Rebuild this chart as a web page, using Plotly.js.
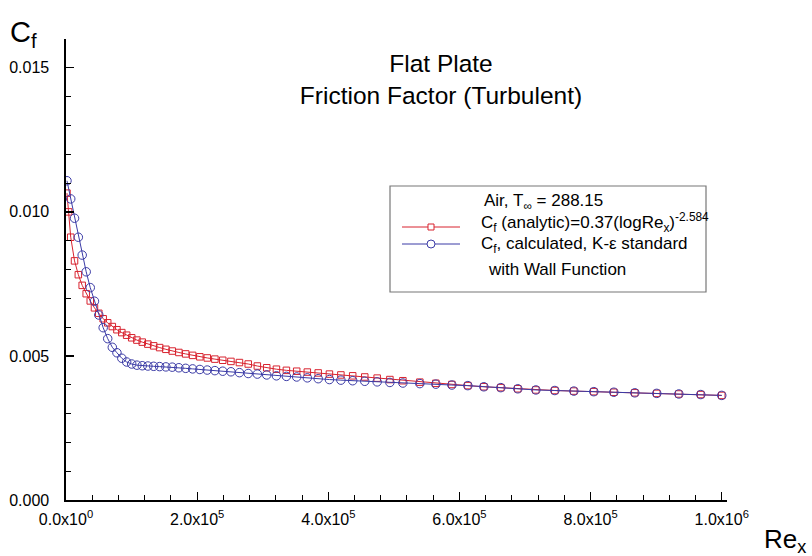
<!DOCTYPE html>
<html>
<head>
<meta charset="utf-8">
<script src="https://cdn.plot.ly/plotly-3.0.1.min.js"></script>
<style>html,body{margin:0;padding:0;background:#fff;}#chart{width:812px;height:556px;}</style>
</head>
<body>
<div id="chart"></div>
<script>
// ---- data ----
const reAnalytic = [1500, 4000, 7200, 13000, 18800, 24700, 30800, 37000, 43400, 50000, 56700, 63600, 70600, 77700, 85100, 92500, 100200, 108100, 116300, 124800, 133700, 142800, 152300, 162000, 172100, 182500, 193100, 204100, 215400, 227000, 239000, 251500, 264500, 277900, 291800, 306100, 320900, 336100, 351800, 368000, 384600, 401700, 419200, 437200, 455600, 474500, 493900, 513700, 539600, 564000, 588400, 612800, 637200, 663100, 689000, 716500, 745400, 774400, 804900, 835400, 867400, 900900, 934500, 968000, 1000000];
const cfAnalytic = [0.01065, 0.01000, 0.00912, 0.00830, 0.00782, 0.00745, 0.00716, 0.00691, 0.00667, 0.00648, 0.00629, 0.00615, 0.00602, 0.00591, 0.00581, 0.00572, 0.00563, 0.00555, 0.00548, 0.00541, 0.00535, 0.00529, 0.00523, 0.00517, 0.00512, 0.00507, 0.00502, 0.00497, 0.00493, 0.00489, 0.00485, 0.00481, 0.00477, 0.00472, 0.00465, 0.00459, 0.00454, 0.00450, 0.00447, 0.00444, 0.00441, 0.00437, 0.00434, 0.00431, 0.00427, 0.00423, 0.00418, 0.00414, 0.00409, 0.00405, 0.00401, 0.00397, 0.00393, 0.00390, 0.00386, 0.00382, 0.00380, 0.00378, 0.00376, 0.00374, 0.00372, 0.00370, 0.00368, 0.00366, 0.00363];
const reCalc = [1500, 7200, 13000, 18800, 24700, 30800, 37000, 43400, 50000, 56700, 63600, 70600, 77700, 85100, 92500, 100200, 108100, 116300, 124800, 133700, 142800, 152300, 162000, 172100, 182500, 193100, 204100, 215400, 227000, 239000, 251500, 264500, 277900, 291800, 306100, 320900, 336100, 351800, 368000, 384600, 401700, 419200, 437200, 455600, 474500, 493900, 513700, 539600, 564000, 588400, 612800, 637200, 663100, 689000, 716500, 745400, 774400, 804900, 835400, 867400, 900900, 934500, 968000, 1000000];
const cfCalc = [0.01108, 0.01045, 0.00978, 0.00912, 0.00850, 0.00792, 0.00737, 0.00690, 0.00642, 0.00598, 0.00560, 0.00530, 0.00511, 0.00492, 0.00479, 0.00472, 0.00468, 0.00466, 0.00465, 0.00464, 0.00463, 0.00462, 0.00461, 0.00459, 0.00457, 0.00455, 0.00453, 0.00451, 0.00449, 0.00447, 0.00445, 0.00442, 0.00439, 0.00437, 0.00434, 0.00431, 0.00429, 0.00427, 0.00424, 0.00421, 0.00418, 0.00416, 0.00414, 0.00412, 0.00410, 0.00408, 0.00406, 0.00404, 0.00402, 0.00399, 0.00397, 0.00393, 0.00390, 0.00386, 0.00382, 0.00380, 0.00378, 0.00376, 0.00374, 0.00372, 0.00370, 0.00368, 0.00366, 0.00363];
const xTickVals = [0, 200000, 400000, 600000, 800000, 1000000];
const xTickText = ['0.0x10<sup>0</sup>', '2.0x10<sup>5</sup>', '4.0x10<sup>5</sup>', '6.0x10<sup>5</sup>', '8.0x10<sup>5</sup>', '1.0x10<sup>6</sup>'];
const yTickVals = [0, 0.005, 0.010, 0.015];
const yTickText = ['0.000', '0.005', '0.010', '0.015'];
const legendLines = ['Air, T<sub>∞</sub> = 288.15', 'C<sub>f</sub> (analytic)=0.37(logRe<sub>x</sub>)<sup>-2.584</sup>', 'C<sub>f</sub>, calculated, K-ε standard', 'with Wall Function'];

// ---- layout geometry (pixels) ----
const W = 812, H = 556;
const M = {l: 66, r: 85, t: 39, b: 56};
const PW = W - M.l - M.r, PH = H - M.t - M.b;
const px = x => (x - M.l) / PW;
const py = y => (H - M.b - y) / PH;

const red = '#d8232f', blue = '#3b3ba6';
const font = 'Liberation Sans, Arial, sans-serif';

const traces = [
  {x: reAnalytic, y: cfAnalytic, type: 'scatter', mode: 'lines+markers', name: 'analytic',
   line: {color: red, width: 1}, marker: {symbol: 'square-open', size: 6.5, color: red, line: {width: 1, color: red}}},
  {x: reCalc, y: cfCalc, type: 'scatter', mode: 'lines+markers', name: 'calculated',
   line: {color: blue, width: 1}, marker: {symbol: 'circle-open', size: 8.5, color: blue, line: {width: 1, color: blue}}}
];

const ann = [
  {text: 'C<sub>f</sub>', xref: 'paper', yref: 'paper', x: px(8), y: py(34), xanchor: 'left', yanchor: 'middle', showarrow: false, font: {family: font, size: 29, color: '#000'}},
  {text: 'Re<sub>x</sub>', xref: 'paper', yref: 'paper', x: px(762), y: py(540), xanchor: 'left', yanchor: 'middle', showarrow: false, font: {family: font, size: 26, color: '#000'}},
  {text: legendLines[0], xref: 'paper', yref: 'paper', x: px(482), y: py(202), xanchor: 'left', yanchor: 'middle', showarrow: false, font: {family: font, size: 17, color: '#000'}},
  {text: legendLines[1], xref: 'paper', yref: 'paper', x: px(479), y: py(222), xanchor: 'left', yanchor: 'middle', showarrow: false, font: {family: font, size: 17, color: '#000'}},
  {text: legendLines[2], xref: 'paper', yref: 'paper', x: px(479), y: py(245), xanchor: 'left', yanchor: 'middle', showarrow: false, font: {family: font, size: 17, color: '#000'}},
  {text: legendLines[3], xref: 'paper', yref: 'paper', x: px(486), y: py(269), xanchor: 'left', yanchor: 'middle', showarrow: false, font: {family: font, size: 17, color: '#000'}}
];

const shapes = [
  {type: 'rect', xref: 'paper', yref: 'paper', x0: px(390), x1: px(706), y0: py(186), y1: py(292), line: {color: '#777', width: 1.2}, fillcolor: 'rgba(255,255,255,0)'},
  {type: 'line', xref: 'paper', yref: 'paper', x0: px(402), x1: px(460), y0: py(227), y1: py(227), line: {color: red, width: 1}},
  {type: 'rect', xref: 'paper', yref: 'paper', x0: px(428), x1: px(434), y0: py(224), y1: py(230), line: {color: red, width: 1}, fillcolor: '#fff'},
  {type: 'line', xref: 'paper', yref: 'paper', x0: px(402), x1: px(460), y0: py(244), y1: py(244), line: {color: blue, width: 1}},
  {type: 'circle', xref: 'paper', yref: 'paper', x0: px(427), x1: px(435), y0: py(240), y1: py(248), line: {color: blue, width: 1}, fillcolor: '#fff'}
];

const axisCommon = {showgrid: false, zeroline: false, showline: true, linecolor: '#000', linewidth: 1.6,
  ticks: 'inside', ticklen: 8, tickwidth: 1.3, tickcolor: '#000', tickfont: {family: font, size: 16, color: '#000'}};

const layout = {
  width: W, height: H, margin: M, paper_bgcolor: '#fff', plot_bgcolor: '#fff', showlegend: false,
  title: {text: 'Flat Plate<br>Friction Factor (Turbulent)', x: 441 / W, xanchor: 'center', xref: 'container',
          y: 1 - 72 / H, yanchor: 'top', yref: 'container', font: {family: font, size: 24.5, color: '#000'}},
  xaxis: Object.assign({}, axisCommon, {range: [0, 1008000], tickvals: xTickVals, ticktext: xTickText, ticklabelstandoff: 4,
          minor: {dtick: 40000, tick0: 0, ticks: 'inside', ticklen: 5, tickwidth: 1, tickcolor: '#000'}}),
  yaxis: Object.assign({}, axisCommon, {range: [0, 0.016], tickvals: yTickVals, ticktext: yTickText, ticklabelstandoff: 12,
          minor: {dtick: 0.001, tick0: 0, ticks: 'inside', ticklen: 5, tickwidth: 1, tickcolor: '#000'}}),
  annotations: ann, shapes: shapes
};

Plotly.newPlot('chart', traces, layout, {staticPlot: true, displayModeBar: false});
</script>
</body>
</html>
